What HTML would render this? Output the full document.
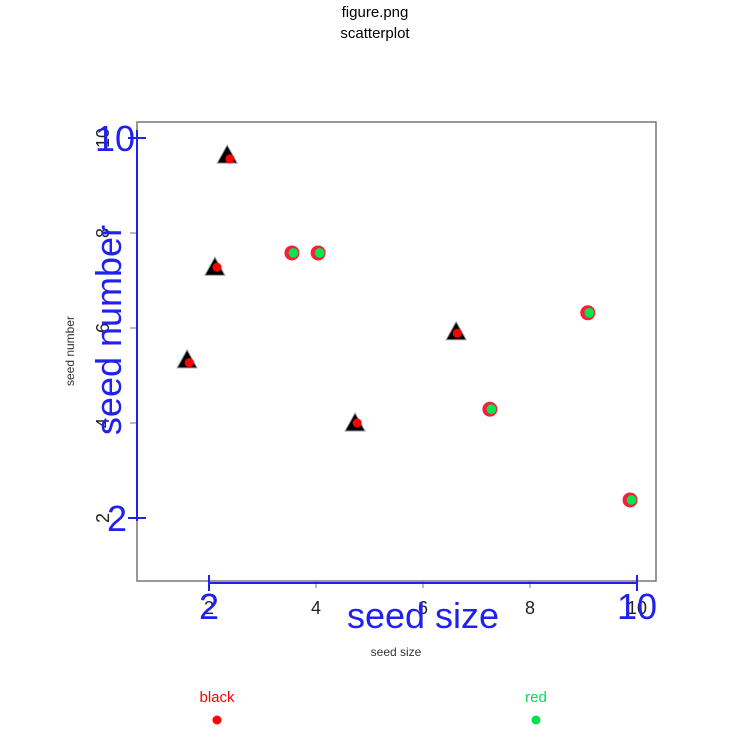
<!DOCTYPE html>
<html><head><meta charset="utf-8"><style>body{margin:0;background:#fff}svg{display:block}text{font-family:"Liberation Sans",sans-serif}</style></head>
<body>
<svg id="c" width="751" height="744">
<text x="375" y="17" font-size="15" text-anchor="middle">figure.png</text>
<text x="375" y="38" font-size="15" text-anchor="middle">scatterplot</text>
<rect x="137" y="122" width="519" height="459" fill="none" stroke="#777" stroke-width="1.5"/>
<g id="g"></g>
<text x="396" y="656" font-size="12" fill="#333" text-anchor="middle">seed size</text>
<text transform="translate(74,351) rotate(-90)" font-size="12" fill="#333" text-anchor="middle">seed number</text>
<text x="423" y="628" font-size="36" fill="#2020f0" text-anchor="middle">seed size</text>
<text transform="translate(121,330) rotate(-90)" font-size="36" fill="#2020f0" text-anchor="middle">seed number</text>
<text x="217" y="702" font-size="15" fill="#f00" text-anchor="middle">black</text>
<circle cx="217" cy="720" r="4.5" fill="#f00"/>
<text x="536" y="702" font-size="15" fill="#00e050" text-anchor="middle">red</text>
<circle cx="536" cy="720" r="4.5" fill="#00e050"/>
</svg>
<script>
const xTicks=[2,4,6,8,10];
const yTicks=[2,4,6,8,10];
const triX=[2.34,2.11,1.59,4.73,6.62];
const triY=[9.64,7.28,5.33,4.0,5.92];
const dotX=[2.39,2.15,1.63,4.77,6.64];
const dotY=[9.56,7.28,5.27,4.0,5.89];
const circX=[3.55,4.04,7.25,9.08,9.87];
const circY=[7.58,7.58,4.29,6.32,2.38];
const sx=v=>102+53.5*v, sy=v=>613-47.5*v;
const g=document.getElementById('g'),NS='http://www.w3.org/2000/svg';
function mk(t,a){const e=document.createElementNS(NS,t);for(const k in a)e.setAttribute(k,a[k]);g.appendChild(e);return e;}
xTicks.forEach(v=>{
 const l=mk('line',{x1:sx(v),x2:sx(v),y1:581,y2:588,stroke:'#777'});
 
 
 const t=mk('text',{x:sx(v),y:614,'font-size':18,'text-anchor':'middle',fill:'#222'});t.textContent=v;
 
 
});
yTicks.forEach(v=>{
 const l=mk('line',{x1:130,x2:137,y1:sy(v),y2:sy(v),stroke:'#777'});
 
 
 const t=mk('text',{transform:`translate(109,${sy(v)}) rotate(-90)`,'font-size':18,'text-anchor':'middle',fill:'#222'});t.textContent=v;
 
 
});
let b=mk('line',{x1:137,x2:137,y1:sy(10)-8,y2:sy(2)+3,stroke:'#2020f0','stroke-width':2});


b=mk('line',{x1:sx(2),x2:sx(10),y1:583,y2:583,stroke:'#2020f0','stroke-width':2});


[2,10].forEach(v=>{
 let l=mk('line',{x1:128,x2:146,y1:sy(v),y2:sy(v),stroke:'#2020f0','stroke-width':2});
 
 
 let t=mk('text',{x:v==10?115:117,y:sy(v)+13,'font-size':36,'text-anchor':'middle',fill:'#2020f0'});t.textContent=v;
 
 
 l=mk('line',{x1:sx(v),x2:sx(v),y1:575,y2:591,stroke:'#2020f0','stroke-width':2});
 
 
 t=mk('text',{x:sx(v),y:619,'font-size':36,'text-anchor':'middle',fill:'#2020f0'});t.textContent=v;
 
 
});
triX.forEach((v,i)=>{
 const x=sx(v),y=sy(triY[i]);
 const p=mk('polygon',{points:`${x},${y-10} ${x-10},${y+8} ${x+10},${y+8}`,fill:'#000',stroke:'#999','stroke-width':1});
 
 
});
dotX.forEach((v,i)=>{
 const c=mk('circle',{cx:sx(v),cy:sy(dotY[i]),r:4.5,fill:'#f00'});
 
 
});
circX.forEach((v,i)=>{
 const c=mk('circle',{cx:sx(v),cy:sy(circY[i]),r:7.5,fill:'#f5203a'});
 
 
 const d=mk('circle',{cx:sx(v)+1.5,cy:sy(circY[i]),r:4.8,fill:'#00e850'});
 
 
});
</script>
</body></html>
